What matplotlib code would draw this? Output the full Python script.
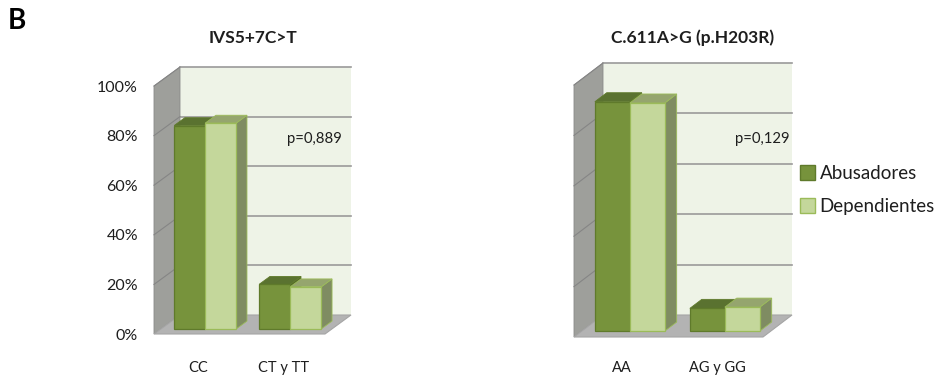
import matplotlib
matplotlib.use('Agg')
import matplotlib.pyplot as plt
from matplotlib.patches import Polygon, Patch

# ---------------- data ----------------
series = ['Abusadores', 'Dependientes']
titles = ['IVS5+7C>T', 'C.611A>G (p.H203R)']
cats_1 = ['CC', 'CT y TT']
abus_1 = [82, 18]
dep_1 = [83, 17]
cats_2 = ['AA', 'AG y GG']
abus_2 = [91, 9]
dep_2 = [90.5, 9.5]
pvals = ['p=0,889', 'p=0,129']
yticks = [0, 20, 40, 60, 80, 100]
ytick_labels = ['0%', '20%', '40%', '60%', '80%', '100%']

# ---------------- style ----------------
plt.rcParams['font.family'] = ['Lato', 'DejaVu Sans']
W, H = 941, 376
fig = plt.figure(figsize=(W / 100, H / 100), dpi=100)

FACE = ['#77933C', '#C4D79B']
EDGE = ['#5F7A2B', '#9BBB59']
TOP = ['#5A7230', '#95A56E']
SIDE = ['#55692A', '#7F8C62']
WALL_BACK = '#EEF3E7'
WALL_LEFT = '#9E9F9B'
FLOOR = '#B3B3B3'
GRID = '#9A9A9A'
TXT = '#1e1e1e'


def px_axes(left, top, right, bottom):
    return fig.add_axes([left / W, 1 - bottom / H, (right - left) / W, (bottom - top) / H])


def draw_chart(ax, cats, vals, xlim, dxp, dyp, ppu_x, ppu_y, bw, show_y, xpad):
    x0, x1 = xlim
    ax.set_xlim(x0, x1)
    ax.set_ylim(0, 100)
    DX = dxp / ppu_x      # depth offset (data units)
    DY = dyp / ppu_y
    # walls and floor
    ax.add_patch(Polygon([(x0 + DX, DY), (x1 + DX, DY), (x1 + DX, 100 + DY), (x0 + DX, 100 + DY)],
                         closed=True, fc=WALL_BACK, ec='none', zorder=0, clip_on=False))
    ax.add_patch(Polygon([(x0, 0), (x0 + DX, DY), (x0 + DX, 100 + DY), (x0, 100)],
                         closed=True, fc=WALL_LEFT, ec='#8a8a8a', lw=0.6, zorder=0.5, clip_on=False))
    ax.add_patch(Polygon([(x0, 0), (x1, 0), (x1 + DX, DY), (x0 + DX, DY)],
                         closed=True, fc=FLOOR, ec='#a5a5a5', lw=0.8, zorder=0.6, clip_on=False))
    for t in yticks[1:]:
        ax.plot([x0 + DX, x1 + DX], [t + DY, t + DY], color=GRID, lw=1.2, zorder=0.7, clip_on=False)
        ax.plot([x0, x0 + DX], [t, t + DY], color='#858585', lw=0.8, zorder=0.7, clip_on=False)
    # bars (oblique 3D look)
    f, b = 0.27, 0.41
    fx, fy = f * DX, f * DY
    bx, by = b * DX, b * DY
    n = len(vals)
    z = 2
    for i in range(len(cats)):
        for j in range(n):
            v = vals[j][i]
            xl = i - n * bw / 2 + j * bw + fx
            ax.bar(xl, v, width=bw, bottom=fy, align='edge', color=FACE[j], edgecolor=EDGE[j],
                   linewidth=0.9, zorder=z + 0.2, clip_on=False)
            ax.add_patch(Polygon([(xl, v + fy), (xl + bw, v + fy), (xl + bw + bx, v + fy + by), (xl + bx, v + fy + by)],
                                 closed=True, fc=TOP[j], ec=EDGE[j], lw=0.6, zorder=z + 0.1, clip_on=False))
            ax.add_patch(Polygon([(xl + bw, fy), (xl + bw, v + fy), (xl + bw + bx, v + fy + by), (xl + bw + bx, fy + by)],
                                 closed=True, fc=SIDE[j], ec=EDGE[j], lw=0.6, zorder=z, clip_on=False))
            z += 1
    for s in ax.spines.values():
        s.set_visible(False)
    ax.set_facecolor('none')
    ax.set_xticks(range(len(cats)))
    ax.set_xticklabels(cats, fontsize=10.5, color=TXT)
    ax.tick_params(axis='x', length=0, pad=xpad)
    if show_y:
        ax.set_yticks(yticks)
        ax.set_yticklabels(ytick_labels, fontsize=11.5, color=TXT)
        ax.tick_params(axis='y', length=0, pad=11.5)
    else:
        ax.set_yticks([])


ax1 = px_axes(154, 86, 325, 334)
draw_chart(ax1, cats_1, [abus_1, dep_1], (-0.52, 1.49), 26, 19, 171 / 2.01, 2.48, 0.365, True, 19.5)
ax2 = px_axes(574, 85, 763, 337)
draw_chart(ax2, cats_2, [abus_2, dep_2], (-0.505, 1.484), 29, 22, 189 / 1.989, 2.52, 0.368, False, 17.5)

# titles and annotations
fig.text(8 / W, 1 - 21 / H, 'B', fontsize=20, fontweight='bold', va='center', ha='left', color='black')
fig.text(253 / W, 1 - 38 / H, titles[0], fontsize=12.5, fontweight='bold', ha='center', va='center', color=TXT)
fig.text(693 / W, 1 - 38 / H, titles[1], fontsize=12.5, fontweight='bold', ha='center', va='center', color=TXT)
fig.text(342 / W, 1 - 139 / H, pvals[0], fontsize=10.7, ha='right', va='center', color=TXT)
fig.text(789 / W, 1 - 139 / H, pvals[1], fontsize=10.7, ha='right', va='center', color=TXT)

handles = [Patch(facecolor=FACE[k], edgecolor=EDGE[k], label=series[k]) for k in range(2)]
fig.legend(handles=handles, loc='upper left', bbox_to_anchor=(800 / W, 1 - 165 / H), frameon=False,
           fontsize=13.5, handlelength=0.8, handleheight=0.8, handletextpad=0.25, labelspacing=0.85,
           borderaxespad=0, borderpad=0)
for t in fig.legends[0].get_texts():
    t.set_color(TXT)

fig.savefig('out.png', dpi=100, facecolor='white')
